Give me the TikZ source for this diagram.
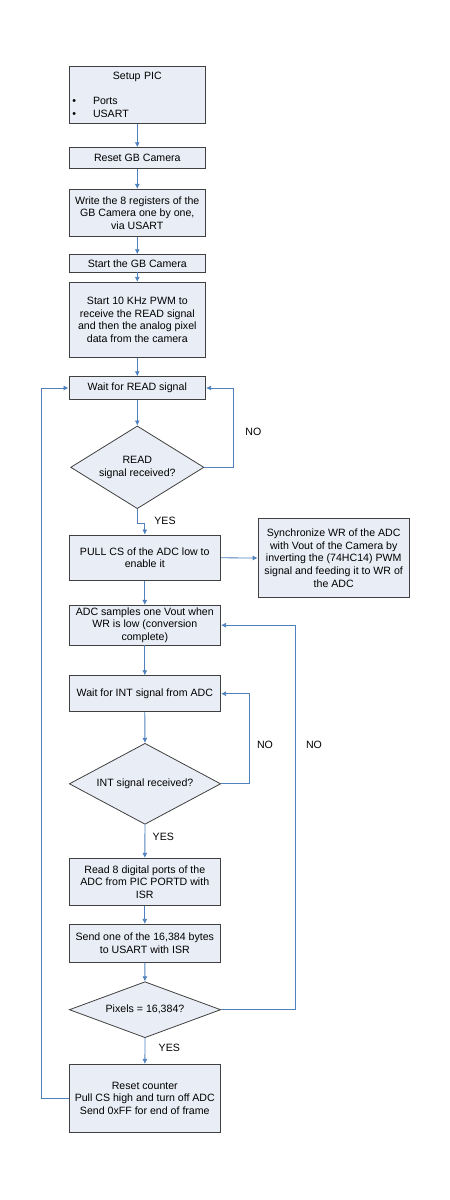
\documentclass[tikz,border=0pt]{standalone}
\usepackage{fontspec}
\setmainfont{Liberation Sans}
\usetikzlibrary{shapes.geometric}
\usetikzlibrary{arrows.meta}
\definecolor{boxfill}{HTML}{E9EDF5}
\definecolor{boxline}{HTML}{404040}
\definecolor{flowblue}{HTML}{4F81BD}

\begin{document}
\begin{tikzpicture}[x=1pt, y=-1pt,
		box/.style={draw=boxline, fill=boxfill, line width=0.8pt, align=center, inner sep=0pt,
			font=\fontsize{10.6}{12.7}\selectfont},
		decision/.style={draw=boxline, fill=boxfill, line width=0.8pt, diamond, align=center, inner sep=0pt,
			font=\fontsize{10.6}{12.7}\selectfont},
		flow/.style={draw=flowblue, line width=0.8pt, -{Latex[length=5pt,width=5pt]}},
		lbl/.style={font=\fontsize{10.6}{12.7}\selectfont}]
		\useasboundingbox (0,0) rectangle (450,1200);
		\node[box, minimum width=136.7pt, minimum height=56.7pt, text width=130pt, align=left] (setup) at (137.3,95)
			{\centering Setup PIC\par\vspace{12.5pt}\raggedright
			\textbullet\hspace{17pt}Ports\par\textbullet\hspace{17pt}USART};
		\node[box, minimum width=136.7pt, minimum height=20.7pt] (reset) at (137.3,158) {Reset GB Camera};
		\node[box, minimum width=136.7pt, minimum height=47.3pt] (write) at (137.3,213)
			{Write the 8 registers of the\\GB Camera one by one,\\via USART};
		\node[box, minimum width=136.7pt, minimum height=17.3pt] (start) at (137.3,263.3) {Start the GB Camera};
		\node[box, minimum width=136.7pt, minimum height=75pt] (pwm) at (137.3,319.8)
			{Start 10 KHz PWM to\\receive the READ signal\\and then the analog pixel\\data from the camera};
		\node[box, minimum width=136.7pt, minimum height=22.7pt] (waitread) at (137.3,388) {Wait for READ signal};
		\node[decision, minimum width=133.3pt, minimum height=82.7pt, aspect=1.6] (dread) at (137.3,467.3)
			{READ\\signal received?};
		\node[box, minimum width=151.7pt, minimum height=45.7pt] (pull) at (144.8,557.8)
			{PULL CS of the ADC low to\\enable it};
		\node[box, minimum width=151.3pt, minimum height=78.6pt] (sync) at (333.7,558)
			{Synchronize WR of the ADC\\with Vout of the Camera by\\inverting the (74HC14) PWM\\signal and feeding it to WR of\\the ADC};
		\node[box, minimum width=151.7pt, minimum height=39.7pt] (adc) at (144.8,625.2)
			{ADC samples one Vout when\\WR is low (conversion\\complete)};
		\node[box, minimum width=151.7pt, minimum height=36pt] (waitint) at (144.8,693.7)
			{Wait for INT signal from ADC};
		\node[decision, minimum width=151.4pt, minimum height=81pt, aspect=1.87] (dint) at (145,783.8)
			{INT signal received?};
		\node[box, minimum width=151.7pt, minimum height=47.4pt] (read8) at (144.8,882)
			{Read 8 digital ports of the\\ADC from PIC PORTD with\\ISR};
		\node[box, minimum width=151.7pt, minimum height=38pt] (send) at (144.8,943.3)
			{Send one of the 16,384 bytes\\to USART with ISR};
		\node[decision, minimum width=151.4pt, minimum height=56pt, aspect=2.7] (dpix) at (145,1009.7)
			{Pixels = 16,384?};
		\node[box, minimum width=151.7pt, minimum height=68pt] (resetc) at (144.8,1098.3)
			{Reset counter\\Pull CS high and turn off ADC\\Send 0xFF for end of frame};
		% main flow
		\draw[flow] (setup) -- (reset);
		\draw[flow] (reset) -- (write);
		\draw[flow] (write) -- (start);
		\draw[flow] (start) -- (pwm);
		\draw[flow] (pwm) -- (waitread);
		\draw[flow] (waitread) -- (dread);
		\draw[flow] (dread.east) -- ++(29.3,0) |- (waitread.east);
		\node[lbl] (noread) at (253.3,432.3) {NO};
		\draw[flow] (dread.south) -- ++(0,14.6) -| (pull.north);
		\node[lbl] (yesread) at (165,520.7) {YES};
		\draw[flow] (pull.east) -- (sync.west);
		\draw[flow] (pull) -- (adc);
		\draw[flow] (adc) -- (waitint);
		\draw[flow] (waitint) -- (dint);
		\draw[flow] (dint.east) -- ++(28,0) |- (waitint.east);
		\node[lbl] (noint) at (265,745.3) {NO};
		\draw[flow] (dint) -- (read8);
		\node[lbl] (yesint) at (163.3,837) {YES};
		\draw[flow] (read8) -- (send);
		\draw[flow] (send) -- (dpix);
		\draw[flow] (dpix.east) -- (295.7,1009.7) |- (adc.east);
		\node[lbl] (nopix) at (314,745.3) {NO};
		\draw[flow] (dpix) -- (resetc);
		\node[lbl] (yespix) at (169.3,1047.7) {YES};
		% back to the start of a frame
		\draw[flow] (resetc.west) -- (41.7,1098.3) |- (waitread.west);
	\end{tikzpicture}
\end{document}
